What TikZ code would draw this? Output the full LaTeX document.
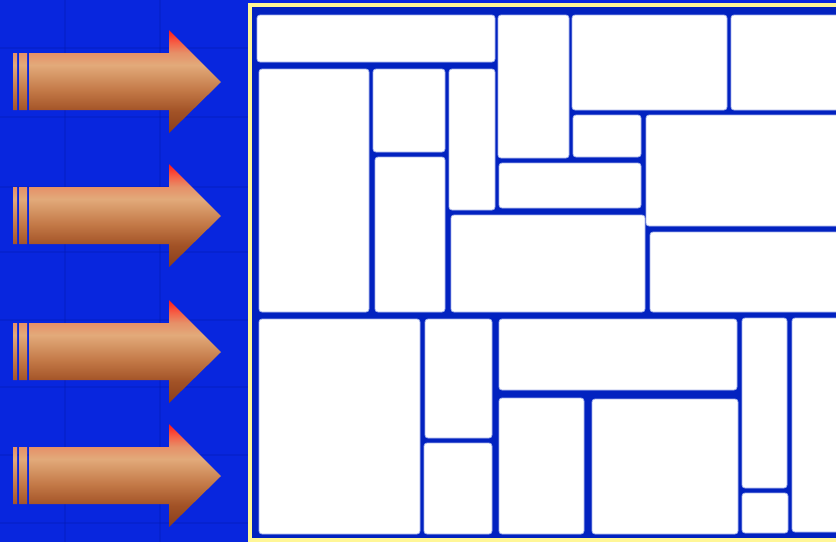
\documentclass[tikz,border=0pt]{standalone}
\usetikzlibrary{shadings}
\definecolor{bgblue}{RGB}{8,38,222}
\definecolor{tileline}{RGB}{4,26,178}
\definecolor{panelblue}{RGB}{2,34,192}
\definecolor{frameyellow}{RGB}{255,246,150}
\definecolor{celledge}{RGB}{165,178,235}
\definecolor{ac0}{RGB}{138,62,28}
\definecolor{ac1}{RGB}{162,82,38}
\definecolor{ac2}{RGB}{196,122,72}
\definecolor{ac3}{RGB}{226,170,122}
\definecolor{ac4}{RGB}{230,144,104}
\definecolor{ac5}{RGB}{245,95,70}
\definecolor{ac6}{RGB}{255,25,25}
\pgfdeclareverticalshading{arrowsh}{100bp}{color(0bp)=(ac0); color(25bp)=(ac0); color(35.5bp)=(ac1); color(46bp)=(ac2); color(58bp)=(ac3); color(64bp)=(ac4); color(69bp)=(ac5); color(75bp)=(ac6); color(100bp)=(ac6)}
\tikzset{
  cell/.style={draw=celledge, line width=0.8pt, fill=white, rounded corners=3pt,
    inner sep=0pt, outer sep=0pt, shape=rectangle},
  arrowfill/.style={shading=arrowsh},
}
\newcommand\cellbox[5]{\node[cell,anchor=north west,minimum width={(#4-#2)*1pt},minimum height={(#5-#3)*1pt}] (#1) at (#2,#3) {};}
\newcommand\fatarrow[1]{%
  \begin{scope}[shift={(0,#1)}]
    \shade[arrowfill] (13,-29) rectangle (17,28)
      (19,-29) rectangle (27,28)
      (29,-29) -- (169,-29) -- (169,-52) -- (221,0) -- (169,51) -- (169,28) -- (29,28) -- cycle;
  \end{scope}}
\begin{document}
\begin{tikzpicture}[x=1pt,y=-1pt]
\useasboundingbox (0,0) rectangle (836,542);
\clip (0,0) rectangle (836,542);
\fill[bgblue] (0,0) rectangle (836,542);
% faint tile texture
\foreach \yy in {48,117,187,252,320,387,455,523} {\draw[tileline,line width=2.5pt,opacity=0.3] (0,\yy) -- (250,\yy);}
\foreach \xx in {65,160} {\draw[tileline,line width=2.5pt,opacity=0.3] (\xx,0) -- (\xx,542);}
% arrows
\fatarrow{82}
\fatarrow{216}
\fatarrow{352}
\fatarrow{476}
% panel
\fill[panelblue] (250,5) rectangle (850,540);
\draw[frameyellow,line width=4pt] (250,5) rectangle (850,540);
% cells
\cellbox{r1}{257}{15}{495}{62}
\cellbox{r2}{498}{15}{569}{158}
\cellbox{r3}{572}{15}{727}{110}
\cellbox{r4}{731}{15}{850}{110}
\cellbox{r5}{259}{69}{369}{312}
\cellbox{r6}{373}{69}{445}{152}
\cellbox{r7}{449}{69}{495}{210}
\cellbox{r8}{375}{157}{445}{312}
\cellbox{r9}{573}{115}{641}{157}
\cellbox{r10}{499}{163}{641}{208}
\cellbox{r11}{646}{115}{850}{226}
\cellbox{r12}{451}{215}{645}{312}
\cellbox{r13}{650}{232}{850}{312}
\cellbox{r14}{259}{319}{420}{534}
\cellbox{r15}{425}{319}{492}{438}
\cellbox{r16}{424}{443}{492}{534}
\cellbox{r17}{499}{319}{737}{390}
\cellbox{r18}{499}{398}{584}{534}
\cellbox{r19}{592}{399}{738}{534}
\cellbox{r20}{742}{318}{787}{488}
\cellbox{r21}{742}{493}{788}{533}
\cellbox{r22}{792}{318}{850}{532}
\end{tikzpicture}
\end{document}
